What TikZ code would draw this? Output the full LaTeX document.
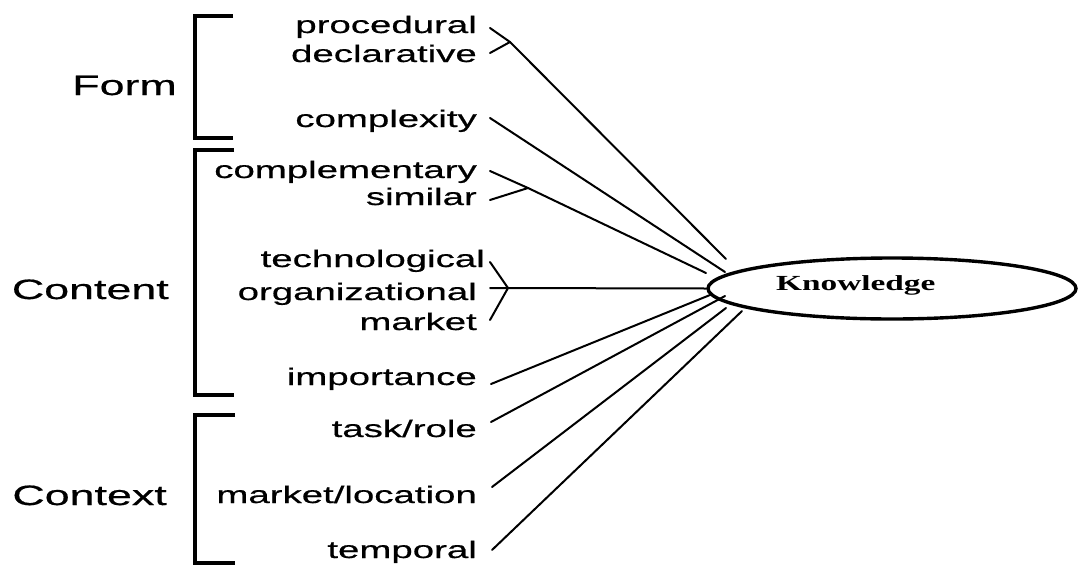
\documentclass[tikz,border=0pt]{standalone}
\usepackage{fontspec}
\setmainfont{Liberation Sans}
\newfontfamily\labfont[FakeStretch=1.6,FakeBold=0.6]{Liberation Sans}
\newfontfamily\keyfont[FakeStretch=1.55]{Liberation Serif}
\usetikzlibrary{shapes.geometric,calc}
\begin{document}
\begin{tikzpicture}[x=1pt,y=-1pt,
  item/.style={font=\labfont\fontsize{24}{24}\selectfont, anchor=base east, inner sep=0pt},
  group/.style={font=\labfont\fontsize{28}{28}\selectfont, anchor=base east, inner sep=0pt},
  link/.style={line width=2pt, line cap=round},
  bracket/.style={line width=3.2pt, line join=miter, line cap=butt},
  core/.style={ellipse, draw, line width=3.4pt, minimum width=368pt, minimum height=61pt, inner sep=0pt},
]
\useasboundingbox (0,0) rectangle (1078,565);

% group brackets
\draw[bracket] (233,16) -- (195,16) -- (195,138) -- (233,138);
\draw[bracket] (234,150) -- (195,150) -- (195,395) -- (234,395);
\draw[bracket] (235,415) -- (195,415) -- (195,563) -- (235,563);

% group names
\node[group] (form) at (177,95) {Form};
\node[group] (content) at (169,299) {Content};
\node[group] (context) at (167,505) {Context};

% knowledge items
\node[item] (proc) at (477,33) {procedural};
\node[item] (decl) at (477,62) {declarative};
\node[item] (cplx) at (477,127) {complexity};
\node[item] (comp) at (477,178) {complementary};
\node[item] (sim)  at (477,205) {similar};
\node[item] (tech) at (485,267) {technological};
\node[item] (org)  at (477,300) {organizational};
\node[item] (mkt)  at (477,330) {market};
\node[item] (imp)  at (477,385) {importance};
\node[item] (task) at (477,437) {task/role};
\node[item] (mloc) at (477,503) {market/location};
\node[item] (temp) at (477,558) {temporal};

% central node
\node[core] (know) at (892,288.5) {};
\node[font=\keyfont\bfseries\fontsize{21.5}{21.5}\selectfont, anchor=base west, inner sep=0pt] (knowtext) at (776,290) {Knowledge};

% line start points beside each item
\coordinate (sproc) at ($(proc.base east)+(13,-5)$);
\coordinate (sdecl) at ($(decl.base east)+(13,-9)$);
\coordinate (scplx) at ($(cplx.base east)+(13,-9)$);
\coordinate (scomp) at ($(comp.base east)+(13,-7)$);
\coordinate (ssim)  at ($(sim.base east)+(13,-5)$);
\coordinate (stech) at ($(tech.base east)+(5,-5)$);
\coordinate (sorg)  at ($(org.base east)+(13,-12)$);
\coordinate (smkt)  at ($(mkt.base east)+(13,-10)$);
\coordinate (simp)  at ($(imp.base east)+(14,-1)$);
\coordinate (stask) at ($(task.base east)+(14,-15)$);
\coordinate (smloc) at ($(mloc.base east)+(15,-16)$);
\coordinate (stemp) at ($(temp.base east)+(15,-8)$);

% fork points
\coordinate (j1) at (510,42);
\coordinate (j2) at (528,188);
\coordinate (j3) at (508,288);

% line ends around the ellipse
\coordinate (e1) at (726,259);
\coordinate (e2) at (725,272);
\coordinate (e3) at (706,273);
\coordinate (e5) at (710,295);
\coordinate (e6) at (725,296);
\coordinate (e7) at (726,308);
\coordinate (e8) at (742,311);

% connectors
\draw[link] (sproc) -- (j1);
\draw[link] (sdecl) -- (j1);
\draw[link] (j1) -- (e1);
\draw[link] (scplx) -- (e2);
\draw[link] (scomp) -- (j2);
\draw[link] (ssim) -- (j2);
\draw[link] (j2) -- (e3);
\draw[link] (stech) -- (j3);
\draw[link] (smkt) -- (j3);
\draw[link] (sorg) -- (know.west);
\draw[link] (simp) -- (e5);
\draw[link] (stask) -- (e6);
\draw[link] (smloc) -- (e7);
\draw[link] (stemp) -- (e8);
\end{tikzpicture}
\end{document}
